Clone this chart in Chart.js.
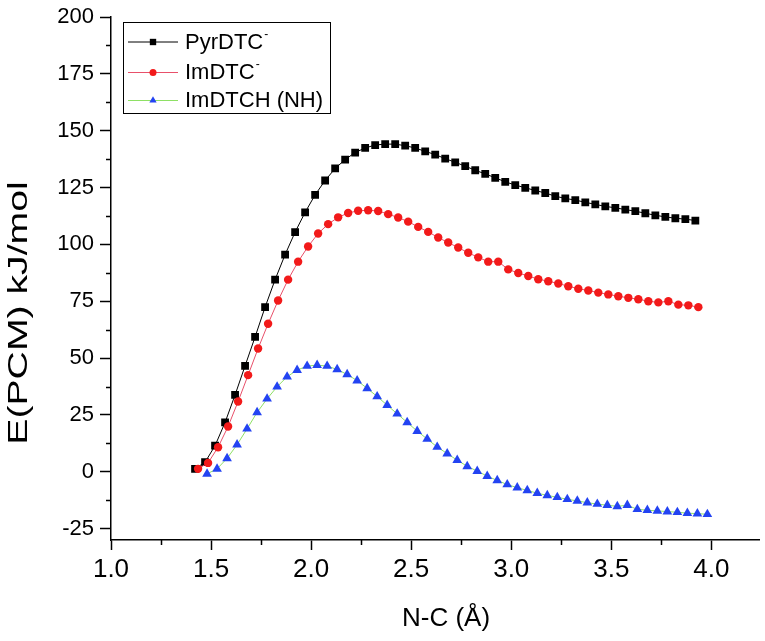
<!DOCTYPE html>
<html>
<head>
<meta charset="utf-8">
<script src="https://cdn.jsdelivr.net/npm/chart.js@4.4.1/dist/chart.umd.min.js"></script>
<style>
  html, body { margin: 0; padding: 0; background: #ffffff; }
  #wrap { width: 765px; height: 641px; }
</style>
</head>
<body>
<div id="wrap"><canvas id="chart" width="765" height="641"></canvas></div>
<script>
// ===========================
// Data
// ===========================

const pyrX = [
  1.42, 1.47, 1.52, 1.57, 1.62, 1.67, 1.72, 1.77, 1.82, 1.87,
  1.92, 1.97, 2.02, 2.07, 2.12, 2.17, 2.22, 2.27, 2.32, 2.37,
  2.42, 2.47, 2.52, 2.57, 2.62, 2.67, 2.72, 2.77, 2.82, 2.87,
  2.92, 2.97, 3.02, 3.07, 3.12, 3.17, 3.22, 3.27, 3.32, 3.37,
  3.42, 3.47, 3.52, 3.57, 3.62, 3.67, 3.72, 3.77, 3.82, 3.87,
  3.92
];
const pyrY = [
  1.3, 4.2, 11.5, 21.7, 33.8, 46.6, 59.3, 72.4, 84.5, 95.5,
  105.4, 114.1, 121.8, 128.1, 133.4, 137.3, 140.4, 142.4, 143.7, 144.1,
  144.1, 143.4, 142.4, 140.9, 139.5, 137.7, 136.1, 134.4, 132.6, 131.0,
  129.3, 127.5, 126.1, 124.9, 123.7, 122.6, 121.2, 120.2, 119.5, 118.5,
  117.6, 116.7, 116.1, 115.3, 114.6, 113.7, 112.8, 112.1, 111.5, 111.1,
  110.5
];

const imX = [
  1.435, 1.485, 1.535, 1.585, 1.635, 1.685, 1.735, 1.785, 1.835, 1.885,
  1.935, 1.985, 2.035, 2.085, 2.135, 2.185, 2.235, 2.285, 2.335, 2.385,
  2.435, 2.485, 2.535, 2.585, 2.635, 2.685, 2.735, 2.785, 2.835, 2.885,
  2.935, 2.985, 3.035, 3.085, 3.135, 3.185, 3.235, 3.285, 3.335, 3.385,
  3.435, 3.485, 3.535, 3.585, 3.635, 3.685, 3.735, 3.785, 3.835, 3.885,
  3.935
];
const imY = [
  1.3, 3.9, 10.8, 19.9, 30.9, 42.5, 54.2, 65.1, 75.3, 84.5,
  92.4, 99.1, 104.8, 108.9, 111.9, 113.8, 114.8, 115.0, 114.7, 113.3,
  111.8, 110.0, 107.7, 105.5, 103.0, 100.8, 98.6, 96.3, 94.3, 92.4,
  92.4, 89.0, 87.4, 86.1, 84.7, 83.8, 82.8, 81.6, 80.5, 79.7,
  78.8, 78.0, 77.2, 76.5, 75.9, 75.0, 74.5, 75.0, 73.5, 73.2,
  72.4
];

const imhX = [
  1.48, 1.53, 1.58, 1.63, 1.68, 1.73, 1.78, 1.83, 1.88, 1.93,
  1.98, 2.03, 2.08, 2.13, 2.18, 2.23, 2.28, 2.33, 2.38, 2.43,
  2.48, 2.53, 2.58, 2.63, 2.68, 2.73, 2.78, 2.83, 2.88, 2.93,
  2.98, 3.03, 3.08, 3.13, 3.18, 3.23, 3.28, 3.33, 3.38, 3.43,
  3.48, 3.53, 3.58, 3.63, 3.68, 3.73, 3.78, 3.83, 3.88, 3.93,
  3.98
];
const imhY = [
  -0.9, 1.3, 5.9, 11.9, 18.9, 26.1, 32.1, 37.4, 41.8, 44.7,
  46.5, 46.9, 46.5, 45.0, 42.8, 40.1, 36.7, 33.1, 29.3, 25.5,
  21.7, 17.9, 14.4, 10.9, 8.0, 5.1, 2.4, 0.3, -1.9, -3.8,
  -5.6, -7.0, -8.2, -9.4, -10.4, -11.2, -12.1, -12.8, -13.6, -14.2,
  -14.7, -15.2, -14.7, -16.5, -16.9, -17.2, -17.5, -17.8, -18.2, -18.4,
  -18.7
];

const seriesNames = ["PyrDTC", "ImDTC", "ImDTCH (NH)"];
const seriesSup = ["-", "-", ""];
const xTicks = [1.0, 1.5, 2.0, 2.5, 3.0, 3.5, 4.0];
const yTicks = [-25, 0, 25, 50, 75, 100, 125, 150, 175, 200];
const xTitle = "N-C (Å)";
const yTitle = "E(PCM) kJ/mol";

const FONT = "'Liberation Sans', Arial, sans-serif";

function toPoints(xs, ys) {
  return xs.map((x, i) => ({ x: x, y: ys[i] }));
}

// ===========================
// Plugin: minor ticks, titles, legend
// ===========================

const extras = {
  id: "extras",
  afterDraw(chart) {
    const ctx = chart.ctx;
    const xs = chart.scales.x;
    const ys = chart.scales.y;
    const area = chart.chartArea;

    ctx.save();
    ctx.strokeStyle = "#000";
    ctx.lineWidth = 1.5;

    // minor ticks
    ctx.beginPath();
    for (let i = 0; i < xTicks.length; i++) {
      const v = xTicks[i] + 0.25;
      if (v > xs.max) continue;
      const px = Math.round(xs.getPixelForValue(v)) + 0.5;
      ctx.moveTo(px, area.bottom);
      ctx.lineTo(px, area.bottom + 5);
    }
    for (let i = 0; i < yTicks.length; i++) {
      const v = yTicks[i] - 12.5;
      if (v < ys.min) continue;
      const py = Math.round(ys.getPixelForValue(v)) + 0.5;
      ctx.moveTo(area.left, py);
      ctx.lineTo(area.left - 5, py);
    }
    ctx.stroke();

    // axis titles
    ctx.fillStyle = "#000";
    ctx.textAlign = "center";
    ctx.textBaseline = "middle";
    ctx.font = "26px " + FONT;
    ctx.fillText(xTitle, 446, 619);

    ctx.save();
    ctx.translate(19, 313);
    ctx.rotate(-Math.PI / 2);
    ctx.scale(1.4, 1);
    ctx.font = "28px " + FONT;
    ctx.fillText(yTitle, 0, 0);
    ctx.restore();

    // legend
    const box = { left: 123, top: 22, right: 330, bottom: 113 };
    ctx.lineWidth = 1;
    ctx.strokeStyle = "#000";
    ctx.fillStyle = "#fff";
    ctx.fillRect(box.left, box.top, box.right - box.left, box.bottom - box.top);
    ctx.strokeRect(box.left + 0.5, box.top + 0.5, box.right - box.left, box.bottom - box.top);

    const rows = [41.5, 72, 100];
    chart.data.datasets.forEach((ds, i) => {
      const y = rows[i];
      ctx.strokeStyle = ds.borderColor;
      ctx.lineWidth = 1;
      ctx.beginPath();
      ctx.moveTo(128, y + 0.5);
      ctx.lineTo(178, y + 0.5);
      ctx.stroke();

      ctx.fillStyle = ds.pointBackgroundColor;
      ctx.strokeStyle = ds.pointBackgroundColor;
      Chart.helpers.drawPoint(ctx, {
        pointStyle: ds.pointStyle,
        radius: ds.legendRadius,
        rotation: 0,
        borderWidth: 0
      }, 153, y + 0.5);

      ctx.fillStyle = "#000";
      ctx.textAlign = "left";
      ctx.textBaseline = "middle";
      ctx.font = "22px " + FONT;
      ctx.fillText(seriesNames[i], 185, y + 1);
      if (seriesSup[i]) {
        const w = ctx.measureText(seriesNames[i]).width;
        ctx.font = "12px " + FONT;
        ctx.fillText(seriesSup[i], 186 + w, y - 7);
      }
    });

    ctx.restore();
  }
};

// ===========================
// Create Chart
// ===========================

const ctx = document.getElementById("chart").getContext("2d");

new Chart(ctx, {
  type: "scatter",
  data: {
    datasets: [
      {
        label: seriesNames[0],
        data: toPoints(pyrX, pyrY),
        showLine: true,
        borderColor: "#000000",
        borderWidth: 1,
        pointStyle: "rect",
        pointRadius: 5.5,
        pointBackgroundColor: "#000000",
        pointBorderWidth: 0,
        legendRadius: 4.5,
        order: 3
      },
      {
        label: seriesNames[1],
        data: toPoints(imX, imY),
        showLine: true,
        borderColor: "#e8506a",
        borderWidth: 1,
        pointStyle: "circle",
        pointRadius: 4.2,
        pointBackgroundColor: "#f21a1a",
        pointBorderWidth: 0,
        legendRadius: 3.5,
        order: 2
      },
      {
        label: seriesNames[2],
        data: toPoints(imhX, imhY),
        showLine: true,
        borderColor: "#8ee065",
        borderWidth: 1,
        pointStyle: "triangle",
        pointRadius: 5.6,
        pointBackgroundColor: "#2343f2",
        pointBorderWidth: 0,
        legendRadius: 4.2,
        order: 1
      }
    ]
  },
  options: {
    responsive: false,
    animation: false,
    devicePixelRatio: 1,
    layout: {
      padding: { left: 0, top: 15, right: 0, bottom: 0 }
    },
    plugins: {
      legend: { display: false },
      tooltip: { enabled: false }
    },
    scales: {
      x: {
        type: "linear",
        min: 1.0,
        max: 4.24,
        afterBuildTicks: (scale) => {
          scale.ticks = xTicks.map((v) => ({ value: v }));
        },
        afterFit: (scale) => {
          scale.height = 101;
        },
        ticks: {
          color: "#000",
          font: { family: FONT, size: 26 },
          padding: 4,
          maxRotation: 0,
          autoSkip: false,
          callback: (v) => Number(v).toFixed(1)
        },
        grid: {
          display: true,
          drawOnChartArea: false,
          drawTicks: true,
          tickLength: 10,
          tickWidth: 1.5,
          tickColor: "#000"
        },
        border: { display: true, color: "#000", width: 1.5 }
      },
      y: {
        type: "linear",
        min: -30,
        max: 200,
        afterBuildTicks: (scale) => {
          scale.ticks = yTicks.map((v) => ({ value: v }));
        },
        afterFit: (scale) => {
          scale.width = 111;
        },
        ticks: {
          color: "#000",
          font: { family: FONT, size: 22, lineHeight: 1 },
          padding: 6,
          autoSkip: false,
          callback: (v) => String(v)
        },
        grid: {
          display: true,
          drawOnChartArea: false,
          drawTicks: true,
          tickLength: 11,
          tickWidth: 1.5,
          tickColor: "#000"
        },
        border: { display: true, color: "#000", width: 1.5 }
      }
    }
  },
  plugins: [extras]
});
</script>
</body>
</html>
